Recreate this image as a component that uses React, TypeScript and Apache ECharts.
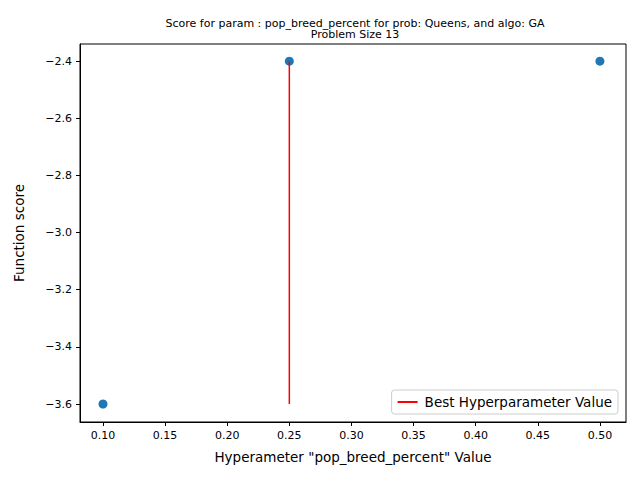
import { useEffect, useRef } from "react";
import * as echarts from "echarts";

const paramValues = [0.1, 0.25, 0.5];
const scores = [-3.6, -2.4, -2.4];
const bestLine = [
  [0.25, -3.6],
  [0.25, -2.4],
];
const xTicks = [0.1, 0.15, 0.2, 0.25, 0.3, 0.35, 0.4, 0.45, 0.5];
const yTicks = [-3.6, -3.4, -3.2, -3.0, -2.8, -2.6, -2.4];

export default function App() {
  const ref = useRef<HTMLDivElement | null>(null);

  useEffect(() => {
    document.body.style.margin = "0";
    if (!ref.current) return;
    const chart = echarts.init(ref.current, undefined, { renderer: "svg" });
    const font = "DejaVu Sans";
    chart.setOption({
      animation: false,
      textStyle: { fontFamily: font },
      title: {
        text: "Score for param : pop_breed_percent for prob: Queens, and algo: GA\nProblem Size 13",
        left: 350,
        textAlign: "center",
        top: 13,
        textStyle: { fontSize: 11, fontWeight: "normal", color: "#000", lineHeight: 11, fontFamily: font },
      },
      grid: { left: 80, right: 14, top: 44, bottom: 58 },
      legend: {
        right: 22,
        bottom: 66,
        orient: "vertical",
        data: [{ name: "Best Hyperparameter Value", icon: "path://M0,0H30V3H0Z" }],
        itemWidth: 24,
        itemHeight: 2,
        itemGap: 8,
        backgroundColor: "#fff",
        borderColor: "#ccc",
        borderWidth: 1,
        borderRadius: 3,
        padding: [5, 6],
        textStyle: { fontSize: 13.5, color: "#000" },
      },
      xAxis: {
        type: "value",
        min: 0.0815,
        max: 0.521,
        name: 'Hyperameter "pop_breed_percent" Value',
        nameLocation: "middle",
        nameGap: 28,
        nameTextStyle: { fontSize: 13.5, color: "#000" },
        splitLine: { show: false },
        axisLine: { onZero: false, lineStyle: { color: "#000" } },
        axisTick: { customValues: xTicks, length: 4, lineStyle: { color: "#000" } },
        axisLabel: {
          customValues: xTicks,
          color: "#000",
          fontSize: 11,
          formatter: (v: number) => v.toFixed(2),
        },
      },
      yAxis: {
        type: "value",
        min: -3.663,
        max: -2.34,
        name: "Function score",
        nameLocation: "middle",
        nameGap: 54,
        nameTextStyle: { fontSize: 13.5, color: "#000" },
        splitLine: { show: false },
        axisLine: { show: true, onZero: false, lineStyle: { color: "#000" } },
        axisTick: { show: true, customValues: yTicks, length: 4, lineStyle: { color: "#000" } },
        axisLabel: {
          customValues: yTicks,
          color: "#000",
          fontSize: 11,
          formatter: (v: number) => "\u2212" + Math.abs(v).toFixed(1),
        },
      },
      series: [
        {
          type: "scatter",
          data: paramValues.map((x, i) => [x, scores[i]]),
          symbolSize: 9,
          itemStyle: { color: "#1f77b4", opacity: 1 },
        },
        {
          name: "Best Hyperparameter Value",
          type: "line",
          data: bestLine,
          showSymbol: false,
          lineStyle: { color: "red", width: 1.5 },
          itemStyle: { color: "red" },
        },
      ],
    });
    chart.setOption({
      graphic: [
        { type: "rect", shape: { x: 80, y: 44, width: 546, height: 378 }, style: { fill: "none", stroke: "#000", lineWidth: 1 }, silent: true },
      ],
    });
    return () => chart.dispose();
  }, []);

  return <div ref={ref} style={{ width: 640, height: 480 }} />;
}
